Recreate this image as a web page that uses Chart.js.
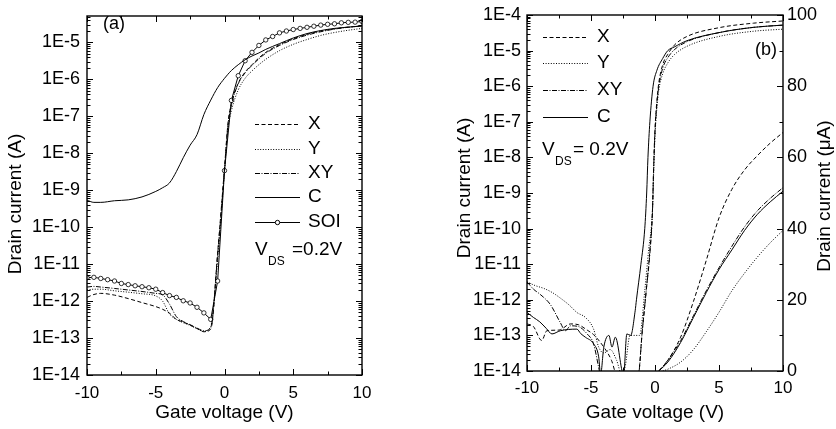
<!DOCTYPE html>
<html>
<head>
<meta charset="utf-8">
<script src="https://cdn.jsdelivr.net/npm/chart.js@4.4.1/dist/chart.umd.min.js"></script>
<style>
  html, body { margin: 0; padding: 0; background: #fff; }
  .panel { position: absolute; top: 0; width: 418px; height: 429px; }
</style>
</head>
<body>
<div class="panel" style="left:0"><canvas id="chartA"></canvas></div>
<div class="panel" style="left:418px"><canvas id="chartB"></canvas></div>
<script>
// ---------- panel (a): log drain current vs gate voltage ----------
var aGate = [-10,-9.5,-9,-8,-7,-6,-5,-4.5,-4,-3.5,-3,-2.5,-2,-1.5,-1,-0.5,0,0.25,0.5,1,1.5,2,2.5,3,4,5,6,7,8,9,10];
var aX  = [1.26e-12,1.51e-12,1.62e-12,1.45e-12,1.17e-12,9.1e-13,7.1e-13,6.0e-13,4.7e-13,3.2e-13,2.7e-13,2.24e-13,1.82e-13,1.48e-13,1.74e-13,2.0e-11,4.0e-9,6.3e-8,2.24e-7,7.9e-7,1.58e-6,2.5e-6,3.8e-6,5.4e-6,8.7e-6,1.26e-5,1.66e-5,2.04e-5,2.34e-5,2.6e-5,2.8e-5];
var aY  = [2.0e-12,2.1e-12,2.1e-12,1.9e-12,1.74e-12,1.58e-12,1.38e-12,1.0e-12,4.5e-13,3.2e-13,2.6e-13,2.2e-13,1.78e-13,1.51e-13,2.1e-13,1.26e-11,3.2e-9,4.5e-8,1.41e-7,5.2e-7,1.07e-6,1.7e-6,2.5e-6,3.5e-6,6.0e-6,8.9e-6,1.2e-5,1.55e-5,1.86e-5,2.14e-5,2.4e-5];
var aXY = [2.4e-12,2.5e-12,2.4e-12,2.2e-12,2.0e-12,1.82e-12,1.62e-12,1.48e-12,8.3e-13,3.8e-13,2.8e-13,2.3e-13,1.86e-13,1.58e-13,1.9e-13,1.78e-11,3.5e-9,5.6e-8,2.0e-7,7.6e-7,1.51e-6,2.4e-6,3.6e-6,5.1e-6,8.3e-6,1.2e-5,1.58e-5,1.95e-5,2.3e-5,2.57e-5,2.8e-5];
var aC  = [5.4e-10,4.7e-10,4.7e-10,5.2e-10,5.5e-10,6.6e-10,9.3e-10,1.17e-9,1.58e-9,3.2e-9,7.6e-9,1.66e-8,3.2e-8,1.12e-7,2.75e-7,6.0e-7,1.07e-6,1.38e-6,1.74e-6,2.5e-6,3.4e-6,4.3e-6,5.2e-6,6.5e-6,9.3e-6,1.32e-5,1.74e-5,2.1e-5,2.4e-5,2.6e-5,2.8e-5];
var aGateSOI = [-10,-9.5,-9,-8.5,-8,-7.5,-7,-6.5,-6,-5.5,-5,-4.5,-4,-3.5,-3,-2.5,-2,-1.5,-1,-0.5,0,0.5,1,1.5,2,2.5,3,3.5,4,4.5,5,5.5,6,6.5,7,7.5,8,8.5,9,9.5,10];
var aSOI = [4.3e-12,4.4e-12,4.1e-12,3.8e-12,3.5e-12,3.0e-12,2.8e-12,2.6e-12,2.45e-12,2.3e-12,2.1e-12,1.7e-12,1.41e-12,1.26e-12,1.02e-12,8.9e-13,6.8e-13,4.8e-13,3.2e-13,3.5e-12,3.4e-9,2.7e-7,1.26e-6,3.2e-6,5.4e-6,8.3e-6,1.17e-5,1.45e-5,1.82e-5,2.04e-5,2.24e-5,2.4e-5,2.57e-5,2.75e-5,2.95e-5,3.1e-5,3.2e-5,3.4e-5,3.5e-5,3.55e-5,3.7e-5];

// ---------- panel (b): log curves (left axis) ----------
var bGateX = [-10,-9.5,-8.85,-8.45,-7.5,-6.6,-6,-5.3,-4.8,-4,-3.4,-2.9,-2,-1.3,-1,-0.7,-0.4,-0.2,-0.1,0,0.15,0.3,0.6,1,1.5,2.5,5,7.7,10];
var bX = [2.1e-13,1.78e-13,7.2e-14,1.35e-13,1.41e-13,2.1e-13,2.0e-13,1.41e-13,1.05e-13,4.7e-14,2.0e-14,6e-15,5e-15,8e-15,1.26e-13,1.6e-12,2.5e-11,3.2e-10,6.3e-9,6.3e-8,4.0e-7,1.26e-6,4.0e-6,7.9e-6,1.41e-5,2.5e-5,4.4e-5,5.9e-5,6.8e-5];
var bGateY = [-10,-9.35,-8.7,-8,-7.4,-6.7,-6.1,-5.44,-4.8,-4.4,-4,-3.5,-3,-2.6,-2.34,-1.95,-1.2,-0.8,-0.5,-0.2,-0.1,0,0.15,0.3,0.6,1,1.5,2.5,5,7.7,10];
var bY = [3.2e-12,2.5e-12,2.1e-12,1.58e-12,1.12e-12,7.1e-13,4.4e-13,3.2e-13,1.51e-13,4.7e-14,3.2e-14,4.0e-14,2.0e-14,8e-15,1.26e-14,1.0e-13,1.0e-13,1.8e-12,2.5e-11,3.2e-10,4.0e-9,4.0e-8,2.5e-7,7.9e-7,2.24e-6,4.5e-6,7.6e-6,1.32e-5,2.5e-5,3.5e-5,4.0e-5];
var bGateXY = [-10,-9.5,-8.96,-8.18,-7.4,-7,-6.6,-6,-5.3,-4.8,-4.4,-4.2,-1.3,-1,-0.7,-0.4,-0.2,-0.1,0,0.15,0.3,0.6,1,1.5,2.5,5,7.7,10];
var bXY = [3.2e-12,2.0e-12,1.41e-12,7.4e-13,2.3e-13,1.35e-13,1.86e-13,1.78e-13,1.1e-13,5.8e-14,1.26e-14,6e-15,8e-15,1.26e-13,1.6e-12,2.0e-11,2.8e-10,5.6e-9,5.0e-8,3.2e-7,1.0e-6,3.2e-6,6.3e-6,1.05e-5,1.78e-5,3.2e-5,4.5e-5,5.2e-5];
var bGateC = [-10,-9.5,-9,-8.5,-8.05,-7.4,-6.1,-5.8,-5.44,-4.8,-4.4,-4.25,-4,-3.6,-3.36,-3.1,-2.45,-2.2,-1.9,-1.55,-1.45,-1.1,-0.8,-0.65,-0.55,-0.4,-0.15,0.15,0.6,1,1.5,2.5,5,7.7,10];
var bC = [4.4e-13,3.2e-13,2.4e-13,1.58e-13,1.1e-13,1.35e-13,1.5e-13,1.12e-13,8.9e-14,5.8e-14,2.5e-14,8e-15,4.7e-14,1.0e-13,4.7e-14,8.9e-14,8e-15,1.1e-13,1.0e-13,4.9e-13,1e-12,1e-11,1e-10,1e-9,1e-8,1e-7,1e-6,2.8e-6,6.0e-6,1.0e-5,1.26e-5,1.9e-5,3.2e-5,4.5e-5,5.2e-5];

// ---------- panel (b): linear curves (right axis, uA) ----------
var bLinGate = [0.3,1,2,3,4,5,6,7,8,9,10];
var bLinX  = [0,3,9.5,19.5,31,43,51,56.5,60.5,64,67];
var bLinXY = [0,3,8.5,15.5,22.5,29,35,40.5,45,48.5,51.5];
var bLinC  = [0,2.5,8,15,22,28.5,34,39.5,44,47.5,50.5];
var bLinGateY = [0.6,1,2,3,4,5,6,7,8,9,10];
var bLinY  = [0,0.5,2.5,6,11,16.5,22.5,27.5,32,36,39.5];

// ---------- ticks ----------
var xMajor = [-10,-5,0,5,10];
var xMinor = [-7.5,-2.5,2.5,7.5];
var aDecades = [1e-14,1e-13,1e-12,1e-11,1e-10,1e-9,1e-8,1e-7,1e-6,1e-5];
var aDecadeLabels = ['1E-14','1E-13','1E-12','1E-11','1E-10','1E-9','1E-8','1E-7','1E-6','1E-5'];
var bDecades = [1e-14,1e-13,1e-12,1e-11,1e-10,1e-9,1e-8,1e-7,1e-6,1e-5,1e-4];
var bDecadeLabels = ['1E-14','1E-13','1E-12','1E-11','1E-10','1E-9','1E-8','1E-7','1E-6','1E-5','1E-4'];

var dashX = [4, 2.5], dotY = [1, 1.6], dashDotXY = [5, 1.5, 1, 1.5], solid = [];
var FONT = '"Liberation Sans", Arial, Helvetica, sans-serif';
Chart.defaults.font.family = FONT;
Chart.defaults.color = '#000';

function pts(xs, ys) {
  return xs.map(function (x, i) { return { x: x, y: ys[i] }; });
}

function line(label, xs, ys, dash, axis) {
  return {
    label: label, data: pts(xs, ys), yAxisID: axis || 'y',
    borderColor: '#000', borderWidth: 1, borderDash: dash,
    pointRadius: 0, fill: false, cubicInterpolationMode: 'monotone'
  };
}

function txt(ctx, s, x, y, size, align, rot) {
  ctx.save();
  ctx.font = size + 'px ' + FONT;
  ctx.textAlign = align || 'left';
  ctx.textBaseline = 'middle';
  ctx.translate(x, y);
  if (rot) ctx.rotate(rot);
  ctx.fillText(s, 0, 0);
  ctx.restore();
}

function frame(o) {
  return {
    id: 'frame',
    afterDraw: function (chart) {
      var ctx = chart.ctx, a = chart.chartArea, sx = chart.scales.x, sy = chart.scales.y;
      ctx.save();
      ctx.strokeStyle = '#000';
      ctx.fillStyle = '#000';
      ctx.lineWidth = 1;
      ctx.setLineDash([]);
      ctx.beginPath();
      function vt(v, len) {
        var p = Math.round(sx.getPixelForValue(v)) + 0.5;
        ctx.moveTo(p, a.bottom); ctx.lineTo(p, a.bottom - len);
        ctx.moveTo(p, a.top); ctx.lineTo(p, a.top + len);
      }
      function ht(x, p, len) {
        p = Math.round(p) + 0.5;
        ctx.moveTo(x, p); ctx.lineTo(x + len, p);
      }
      xMajor.forEach(function (v) { vt(v, 6); });
      xMinor.forEach(function (v) { vt(v, 3.5); });
      for (var e = -14; e <= -4; e++) {
        for (var m = 1; m <= 9; m++) {
          var v = m * Math.pow(10, e);
          if (v > sy.max * 1.0001) break;
          var p = sy.getPixelForValue(v), len = m === 1 ? 6 : 3.5;
          ht(a.left, p, len);
          if (o.mirrorLog) ht(a.right, p, -len);
        }
      }
      if (o.linRight) {
        var s2 = chart.scales.y2;
        for (var k = 0; k <= 100; k += 10) ht(a.right, s2.getPixelForValue(k), k % 20 === 0 ? -6 : -3.5);
      }
      ctx.stroke();
      ctx.lineWidth = 1.4;
      ctx.strokeRect(a.left, a.top, a.right - a.left, a.bottom - a.top);

      // axis titles
      txt(ctx, 'Drain current (A)', o.yTitle[0], o.yTitle[1], 19, 'center', -Math.PI / 2);
      if (o.y2Title) txt(ctx, 'Drain current (\u03bcA)', o.y2Title[0], o.y2Title[1], 19, 'center', -Math.PI / 2);
      txt(ctx, 'Gate voltage (V)', (a.left + a.right) / 2, 413, 19, 'center');
      txt(ctx, o.tag[0], o.tag[1], o.tag[2], 18, 'left');

      // legend
      var L = o.legend;
      L.rows.forEach(function (r, i) {
        var y = L.y[i] + 0.5;
        ctx.lineWidth = 1;
        ctx.setLineDash(r[1]);
        ctx.beginPath(); ctx.moveTo(L.x0, y); ctx.lineTo(L.x1, y); ctx.stroke();
        ctx.setLineDash([]);
        if (r[2]) {
          ctx.beginPath(); ctx.arc((L.x0 + L.x1) / 2, y, 2.2, 0, Math.PI * 2);
          ctx.fillStyle = '#fff'; ctx.fill(); ctx.stroke(); ctx.fillStyle = '#000';
        }
        txt(ctx, r[0], L.tx, L.y[i], 19, 'left');
      });

      // V_DS note
      var V = o.vds;
      txt(ctx, 'V', V.x, V.y, 19, 'left');
      txt(ctx, 'DS', V.sx, V.y + 12, 12, 'left');
      txt(ctx, V.rest, V.rx, V.y, 19, 'left');
      ctx.restore();
    }
  };
}

var common = {
  responsive: true, maintainAspectRatio: false, animation: false,
  plugins: { legend: { display: false }, tooltip: { enabled: false } }
};

function xScale(h, pad) {
  return {
    type: 'linear', min: -10, max: 10,
    grid: { display: false, drawTicks: false }, border: { display: false },
    ticks: { stepSize: 5, padding: pad, maxRotation: 0, font: { size: 17, lineHeight: 1 } },
    afterFit: function (s) { s.height = h; }
  };
}

function logScale(max, decades, labels, w, pad) {
  return {
    type: 'logarithmic', min: 1e-14, max: max, position: 'left',
    grid: { display: false, drawTicks: false }, border: { display: false },
    afterBuildTicks: function (s) { s.ticks = decades.map(function (v) { return { value: v }; }); },
    ticks: {
      padding: pad, autoSkip: false, font: { size: 18, lineHeight: 1 },
      callback: function (v) { return labels[decades.indexOf(v)]; }
    },
    afterFit: function (s) { s.width = w; }
  };
}

new Chart(document.getElementById('chartA'), {
  type: 'line',
  data: {
    datasets: [
      line('X', aGate, aX, dashX),
      line('Y', aGate, aY, dotY),
      line('XY', aGate, aXY, dashDotXY),
      line('C', aGate, aC, solid),
      {
        label: 'SOI', data: pts(aGateSOI, aSOI), yAxisID: 'y',
        borderColor: '#000', borderWidth: 1, tension: 0,
        pointRadius: 2.2, pointBorderWidth: 0.8,
        pointBackgroundColor: '#fff', pointBorderColor: '#000'
      }
    ]
  },
  options: Object.assign({}, common, {
    layout: { padding: { top: 9, right: 56, left: 0, bottom: 0 } },
    scales: {
      x: xScale(54, 10),
      y: logScale(5.2e-5, aDecades, aDecadeLabels, 87, 7)
    }
  }),
  plugins: [frame({
    mirrorLog: true,
    yTitle: [16, 204],
    tag: ['(a)', 103, 24],
    legend: {
      x0: 255, x1: 300, tx: 308, y: [124, 149, 173, 197, 222],
      rows: [['X', dashX], ['Y', dotY], ['XY', dashDotXY], ['C', solid], ['SOI', solid, true]]
    },
    vds: { x: 255, y: 250, sx: 268, rx: 292, rest: '=0.2V' }
  })]
});

new Chart(document.getElementById('chartB'), {
  type: 'line',
  data: {
    datasets: [
      line('X', bGateX, bX, dashX),
      line('Y', bGateY, bY, dotY),
      line('XY', bGateXY, bXY, dashDotXY),
      line('C', bGateC, bC, solid),
      line('X lin', bLinGate, bLinX, dashX, 'y2'),
      line('Y lin', bLinGateY, bLinY, dotY, 'y2'),
      line('XY lin', bLinGate, bLinXY, dashDotXY, 'y2'),
      line('C lin', bLinGate, bLinC, solid, 'y2')
    ]
  },
  options: Object.assign({}, common, {
    layout: { padding: { top: 9, right: 0, left: 0, bottom: 0 } },
    scales: {
      x: xScale(58, 9),
      y: logScale(1e-4, bDecades, bDecadeLabels, 109, 6),
      y2: {
        type: 'linear', position: 'right', min: 0, max: 100,
        grid: { display: false, drawTicks: false }, border: { display: false },
        ticks: { stepSize: 20, padding: 4, font: { size: 18, lineHeight: 1 } },
        afterFit: function (s) { s.width = 53; }
      }
    }
  }),
  plugins: [frame({
    mirrorLog: false,
    linRight: true,
    yTitle: [47, 188],
    y2Title: [407, 196],
    tag: ['(b)', 337, 50],
    legend: {
      x0: 125, x1: 170, tx: 179, y: [37, 63, 90, 117],
      rows: [['X', dashX], ['Y', dotY], ['XY', dashDotXY], ['C', solid]]
    },
    vds: { x: 124, y: 150, sx: 137, rx: 155, rest: '= 0.2V' }
  })]
});
</script>
</body>
</html>
